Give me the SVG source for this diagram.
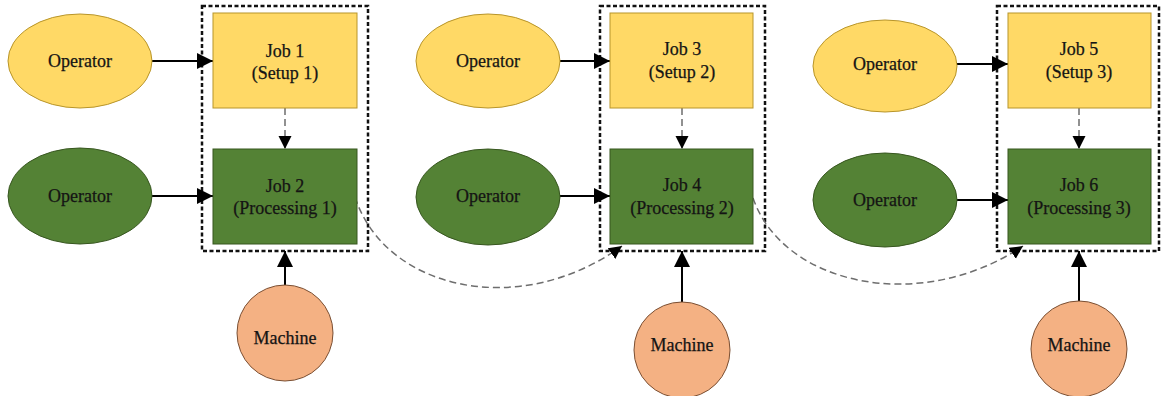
<svg xmlns="http://www.w3.org/2000/svg" width="1161" height="396" viewBox="0 0 1161 396">
  <defs>
    <style>
      text { font-family: "Liberation Serif", "Times New Roman", serif; font-size: 18px; text-anchor: middle; fill: #141414; stroke: #141414; stroke-width: 0.25; }
      .op-setup { fill: #ffd966; stroke: #b8952a; stroke-width: 1; }
      .op-proc { fill: #548235; stroke: #37561f; stroke-width: 1; }
      .job-setup { fill: #ffd966; stroke: #b8952a; stroke-width: 1; }
      .job-proc { fill: #548235; stroke: #37561f; stroke-width: 1; }
      .machine { fill: #f4b183; stroke: #7a4f33; stroke-width: 1; }
      .frame { fill: none; stroke: #111; stroke-width: 2.5; stroke-dasharray: 4 2.5; }
      .solid { fill: none; stroke: #000; stroke-width: 2; }
      .seq { fill: none; stroke: #6e6e6e; stroke-width: 1.5; stroke-dasharray: 7 4; }
    </style>
    <marker id="head" markerUnits="userSpaceOnUse" markerWidth="17" markerHeight="17" refX="16" refY="8" orient="auto">
      <path d="M0,0 L16,8 L0,16 z" fill="#000"/>
    </marker>
    <marker id="head-small" markerUnits="userSpaceOnUse" markerWidth="14" markerHeight="14" refX="13" refY="6.5" orient="auto">
      <path d="M0,0 L13,6.5 L0,13 z" fill="#000"/>
    </marker>
  </defs>

  <!-- station frames -->
  <g id="frames">
    <rect class="frame" x="202" y="6" width="166" height="245"/>
    <rect class="frame" x="600" y="6" width="165" height="245"/>
    <rect class="frame" x="997" y="6" width="162" height="245"/>
  </g>

  <!-- connectors -->
  <g id="connectors">
    <!-- operators into jobs -->
    <line class="solid" x1="152" y1="61" x2="213" y2="61" marker-end="url(#head)"/>
    <line class="solid" x1="152" y1="196" x2="213" y2="196" marker-end="url(#head)"/>
    <line class="solid" x1="560" y1="61" x2="610" y2="61" marker-end="url(#head)"/>
    <line class="solid" x1="560" y1="196" x2="610" y2="196" marker-end="url(#head)"/>
    <line class="solid" x1="957" y1="64" x2="1008" y2="64" marker-end="url(#head)"/>
    <line class="solid" x1="957" y1="200" x2="1008" y2="200" marker-end="url(#head)"/>
    <!-- setup to processing -->
    <line class="seq" x1="285" y1="108" x2="285" y2="149" marker-end="url(#head-small)"/>
    <line class="seq" x1="682" y1="108" x2="682" y2="149" marker-end="url(#head-small)"/>
    <line class="seq" x1="1079" y1="108" x2="1079" y2="149" marker-end="url(#head-small)"/>
    <!-- machines into stations -->
    <line class="solid" x1="285" y1="285" x2="285" y2="251" marker-end="url(#head)"/>
    <line class="solid" x1="682" y1="302" x2="682" y2="251" marker-end="url(#head)"/>
    <line class="solid" x1="1079" y1="301" x2="1079" y2="251" marker-end="url(#head)"/>
    <!-- processing to next station -->
    <path class="seq" d="M355,197 C385,290 520,320 622,246" marker-end="url(#head-small)"/>
    <path class="seq" d="M753,198 C783,285 920,315 1023,246" marker-end="url(#head-small)"/>
  </g>

  <!-- station 1 -->
  <g id="operator-1a">
    <ellipse class="op-setup" cx="80" cy="61" rx="72" ry="47"/>
    <text x="80" y="67">Operator</text>
  </g>
  <g id="job-1">
    <rect class="job-setup" x="213" y="13" width="144" height="95"/>
    <text x="285" y="57">Job 1</text>
    <text x="285" y="79">(Setup 1)</text>
  </g>
  <g id="operator-1b">
    <ellipse class="op-proc" cx="80" cy="196" rx="72" ry="48"/>
    <text x="80" y="202">Operator</text>
  </g>
  <g id="job-2">
    <rect class="job-proc" x="213" y="149" width="144" height="95"/>
    <text x="285" y="192">Job 2</text>
    <text x="285" y="214">(Processing 1)</text>
  </g>
  <g id="machine-1">
    <circle class="machine" cx="285" cy="333" r="48"/>
    <text x="285" y="344">Machine</text>
  </g>

  <!-- station 2 -->
  <g id="operator-2a">
    <ellipse class="op-setup" cx="488" cy="61" rx="72" ry="47"/>
    <text x="488" y="67">Operator</text>
  </g>
  <g id="job-3">
    <rect class="job-setup" x="610" y="13" width="143" height="95"/>
    <text x="682" y="55">Job 3</text>
    <text x="682" y="78">(Setup 2)</text>
  </g>
  <g id="operator-2b">
    <ellipse class="op-proc" cx="488" cy="197" rx="72" ry="48"/>
    <text x="488" y="202">Operator</text>
  </g>
  <g id="job-4">
    <rect class="job-proc" x="610" y="149" width="143" height="95"/>
    <text x="682" y="191">Job 4</text>
    <text x="682" y="214">(Processing 2)</text>
  </g>
  <g id="machine-2">
    <circle class="machine" cx="682" cy="350" r="48"/>
    <text x="682" y="351">Machine</text>
  </g>

  <!-- station 3 -->
  <g id="operator-3a">
    <ellipse class="op-setup" cx="885" cy="66" rx="72" ry="46"/>
    <text x="885" y="70">Operator</text>
  </g>
  <g id="job-5">
    <rect class="job-setup" x="1008" y="13" width="143" height="95"/>
    <text x="1079" y="55">Job 5</text>
    <text x="1079" y="78">(Setup 3)</text>
  </g>
  <g id="operator-3b">
    <ellipse class="op-proc" cx="885" cy="200" rx="72" ry="47"/>
    <text x="885" y="206">Operator</text>
  </g>
  <g id="job-6">
    <rect class="job-proc" x="1008" y="149" width="143" height="95"/>
    <text x="1079" y="191">Job 6</text>
    <text x="1079" y="214">(Processing 3)</text>
  </g>
  <g id="machine-3">
    <circle class="machine" cx="1079" cy="349" r="48"/>
    <text x="1079" y="351">Machine</text>
  </g>
</svg>
